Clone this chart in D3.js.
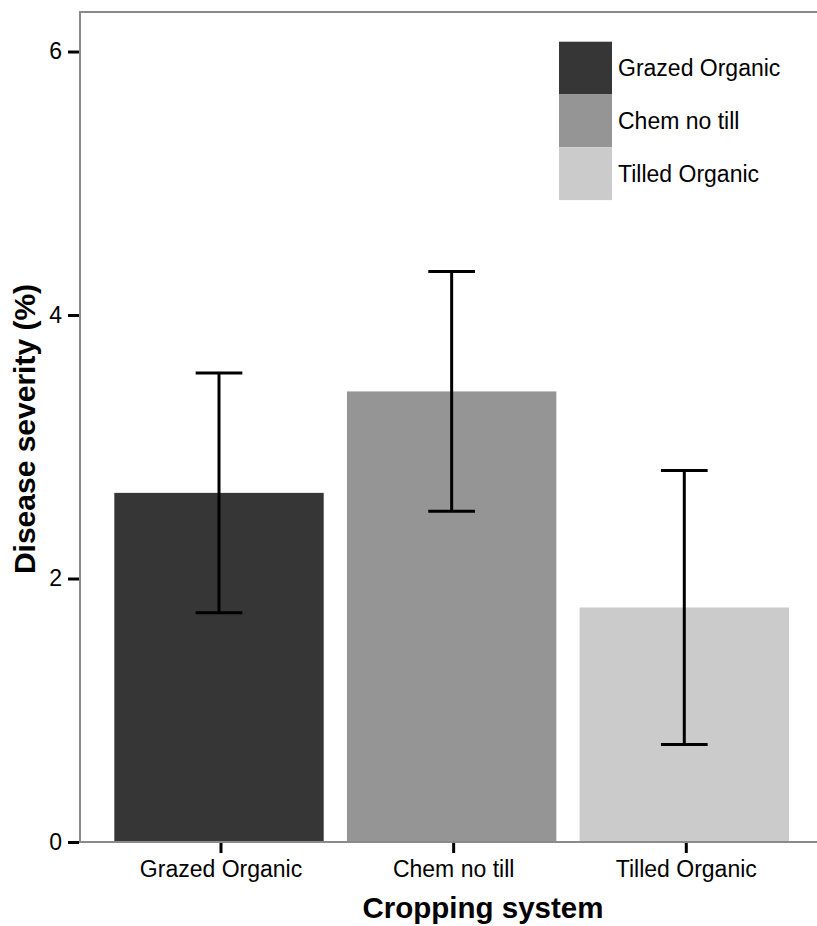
<!DOCTYPE html>
<html>
<head>
<meta charset="utf-8">
<script src="https://cdn.jsdelivr.net/npm/d3@7"></script>
<style>
  html, body { margin: 0; padding: 0; background: #fff; }
  svg { display: block; font-family: "Liberation Sans", Arial, sans-serif; }
</style>
</head>
<body>
<svg id="chart" width="817" height="926"></svg>
<script>
const categories = ["Grazed Organic", "Chem no till", "Tilled Organic"];
const means = [2.65, 3.42, 1.78];
const errors = [0.91, 0.91, 1.04];
const colors = ["#363636", "#959595", "#cbcbcb"];
const yTicks = [0, 2, 4, 6];
const xTitle = "Cropping system";
const yTitle = "Disease severity (%)";

const svg = d3.select("#chart");
const pLeft = 80, pRight = 823.3, pTop = 12, pBottom = 842;

const x = d3.scaleBand().domain(categories).range([pLeft, pRight])
  .paddingInner(0.1).paddingOuter(0.1475);
const y = d3.scaleLinear().domain([0, 6.3]).range([pBottom, pTop]);
const color = d3.scaleOrdinal().domain(categories).range(colors);

const data = categories.map((c, i) => ({ cat: c, mean: means[i], err: errors[i] }));

// bars
svg.append("g").selectAll("rect").data(data).join("rect")
  .attr("x", d => x(d.cat))
  .attr("width", x.bandwidth())
  .attr("y", d => y(d.mean))
  .attr("height", d => y(0) - y(d.mean))
  .attr("fill", d => color(d.cat));

// error bars
const capW = 46.7;
const eg = svg.append("g").attr("stroke", "#000").attr("stroke-width", 3).attr("fill", "none");
data.forEach(d => {
  const cx = x(d.cat) + x.bandwidth() / 2;
  eg.append("line").attr("x1", cx).attr("x2", cx).attr("y1", y(d.mean + d.err)).attr("y2", y(d.mean - d.err));
  eg.append("line").attr("x1", cx - capW / 2).attr("x2", cx + capW / 2).attr("y1", y(d.mean + d.err)).attr("y2", y(d.mean + d.err));
  eg.append("line").attr("x1", cx - capW / 2).attr("x2", cx + capW / 2).attr("y1", y(d.mean - d.err)).attr("y2", y(d.mean - d.err));
});

// panel border lines (left, bottom, top)
const border = svg.append("g").attr("stroke", "#8a8a8a").attr("stroke-width", 2).attr("fill", "none");
border.append("line").attr("x1", pLeft).attr("x2", 817).attr("y1", pTop).attr("y2", pTop);
border.append("line").attr("x1", pLeft).attr("x2", pLeft).attr("y1", pTop - 1).attr("y2", pBottom + 1);
border.append("line").attr("x1", pLeft).attr("x2", 817).attr("y1", pBottom).attr("y2", pBottom);

// y axis
const yAxis = d3.axisLeft(y).tickValues(yTicks).tickFormat(d3.format("d")).tickSize(11).tickPadding(6);
const yg = svg.append("g").attr("transform", `translate(${pLeft - 1},0)`).call(yAxis);
yg.select(".domain").remove();
yg.selectAll(".tick line").attr("stroke", "#000").attr("stroke-width", 3);
yg.selectAll(".tick text").attr("font-size", 23).attr("fill", "#000")
  .attr("font-family", "'Liberation Sans', Arial, sans-serif");

// x axis
const xAxis = d3.axisBottom(x).tickSize(10).tickPadding(8);
const xg = svg.append("g").attr("transform", `translate(2,${pBottom + 1})`).call(xAxis);
xg.select(".domain").remove();
xg.selectAll(".tick line").attr("stroke", "#000").attr("stroke-width", 3);
xg.selectAll(".tick text").attr("font-size", 23).attr("fill", "#000")
  .attr("font-family", "'Liberation Sans', Arial, sans-serif");

// axis titles
svg.append("text").attr("x", 483).attr("y", 918).attr("text-anchor", "middle")
  .attr("font-size", 29.5).attr("font-weight", "bold").text(xTitle);
svg.append("text").attr("transform", `translate(35,${(pTop + pBottom) / 2 + 2}) rotate(-90)`)
  .attr("text-anchor", "middle").attr("font-size", 30).attr("font-weight", "bold").text(yTitle);

// legend
const lg = svg.append("g").attr("transform", "translate(559,41.7)");
const keyW = 53, keyH = 52.8;
categories.forEach((c, i) => {
  lg.append("rect").attr("x", 0).attr("y", i * keyH).attr("width", keyW).attr("height", keyH)
    .attr("fill", color(c));
  lg.append("text").attr("x", keyW + 6).attr("y", i * keyH + keyH / 2).attr("dy", "0.36em")
    .attr("font-size", 23).attr("fill", "#000").text(c);
});
</script>
</body>
</html>
